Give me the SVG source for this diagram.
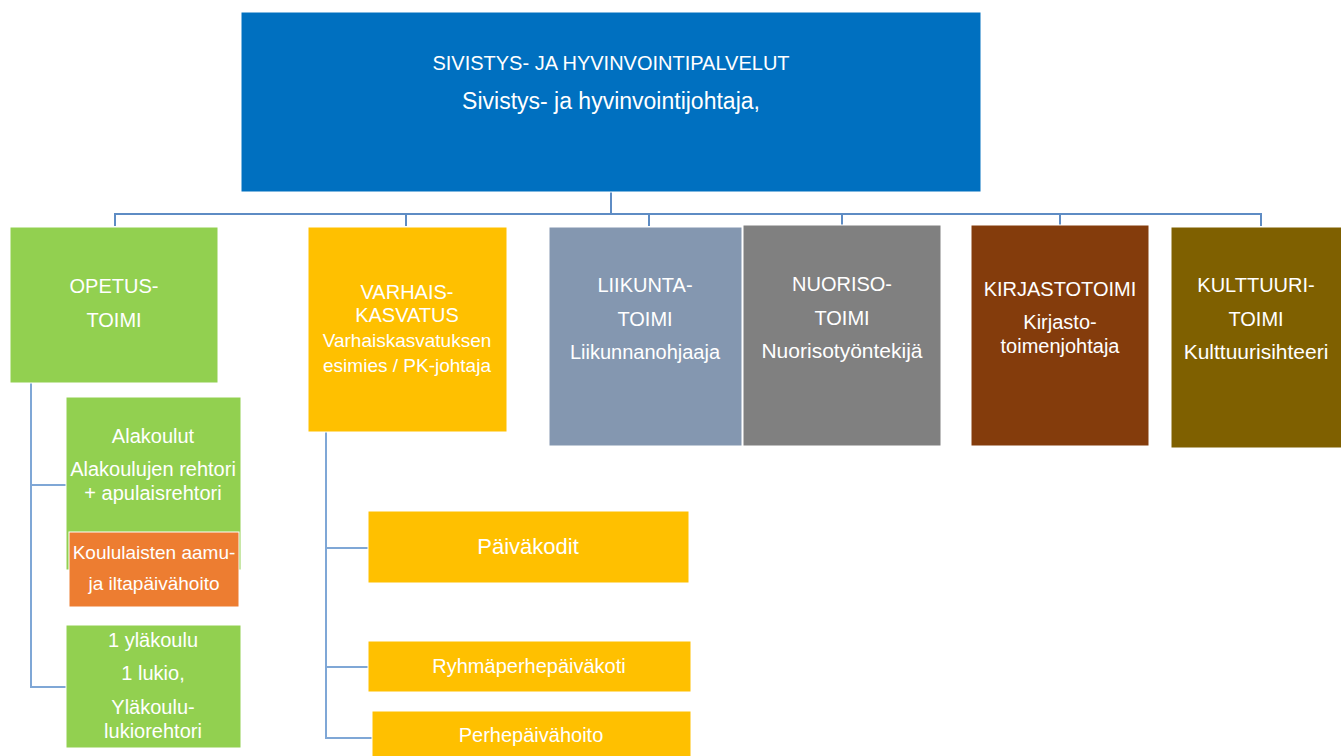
<svg xmlns="http://www.w3.org/2000/svg" width="1341" height="756" viewBox="0 0 1341 756">
<style>
text{font-family:"Liberation Sans",Arial,sans-serif;font-size:20px;fill:#ffffff;text-anchor:middle}
.s19{font-size:19px}
.box{stroke:#ffffff;stroke-width:1}
.con{fill:none;stroke:#5E8CC4;stroke-width:2}
.sub{fill:none;stroke:#7FA7D6;stroke-width:2}
</style>
<rect width="1341" height="756" fill="#ffffff"/>
<g id="connectors">
<path class="con" d="M611,192 V214 M115,226 V214 H1261 V226 M406,214 V226 M649,214 V226 M842,214 V226 M1060,214 V226"/>
<path class="sub" d="M31,383 V687 H66 M31,485 H66"/>
<path class="sub" d="M326,432 V738 H372 M326,548 H368 M326,667 H368"/>
</g>
<g id="top">
<rect class="box" x="241" y="12" width="740" height="180" fill="#0070C0"/>
<text x="611" y="70">SIVISTYS- JA HYVINVOINTIPALVELUT</text>
<text x="611" y="109" style="font-size:23px">Sivistys- ja hyvinvointijohtaja,</text>
</g>
<g id="opetus">
<rect class="box" x="10" y="227" width="208" height="156" fill="#92D050"/>
<text x="114" y="293">OPETUS-</text>
<text x="114" y="327">TOIMI</text>
</g>
<g id="varhais">
<rect class="box" x="308" y="227" width="199" height="205" fill="#FFC000"/>
<text x="407" y="299">VARHAIS-</text>
<text x="407" y="322">KASVATUS</text>
<text class="s19" x="407" y="347">Varhaiskasvatuksen</text>
<text class="s19" x="407" y="372">esimies / PK-johtaja</text>
</g>
<g id="liikunta">
<rect class="box" x="549" y="227" width="193" height="219" fill="#8497B0"/>
<text x="645" y="292">LIIKUNTA-</text>
<text x="645" y="326">TOIMI</text>
<text x="645" y="359">Liikunnanohjaaja</text>
</g>
<g id="nuoriso">
<rect class="box" x="743" y="225" width="198" height="221" fill="#808080"/>
<text x="842" y="291">NUORISO-</text>
<text x="842" y="325">TOIMI</text>
<text x="842" y="358" style="font-size:21px">Nuorisotyöntekijä</text>
</g>
<g id="kirjasto">
<rect class="box" x="971" y="225" width="178" height="221" fill="#843C0C"/>
<text x="1060" y="296">KIRJASTOTOIMI</text>
<text x="1060" y="329">Kirjasto-</text>
<text x="1060" y="353">toimenjohtaja</text>
</g>
<g id="kulttuuri">
<rect class="box" x="1171" y="227" width="172" height="221" fill="#7F6000"/>
<text x="1256" y="292">KULTTUURI-</text>
<text x="1256" y="326">TOIMI</text>
<text x="1256" y="359" style="font-size:21px">Kulttuurisihteeri</text>
</g>
<g id="alakoulut">
<rect class="box" x="66" y="397" width="175" height="173" fill="#92D050"/>
<text x="153" y="443">Alakoulut</text>
<text x="153" y="476">Alakoulujen rehtori</text>
<text x="153" y="500">+ apulaisrehtori</text>
</g>
<g id="aamu">
<rect class="box" x="69" y="532" width="170" height="75" fill="#ED7D31"/>
<text class="s19" x="154" y="559">Koululaisten aamu-</text>
<text class="s19" x="154" y="590">ja iltapäivähoito</text>
</g>
<g id="ylakoulu">
<rect class="box" x="66" y="625" width="175" height="123" fill="#92D050"/>
<text x="153" y="647">1 yläkoulu</text>
<text x="153" y="680">1 lukio,</text>
<text x="153" y="714">Yläkoulu-</text>
<text x="153" y="738">lukiorehtori</text>
</g>
<g id="paivakodit">
<rect class="box" x="368" y="511" width="321" height="72" fill="#FFC000"/>
<text x="528" y="554" style="font-size:22px">Päiväkodit</text>
</g>
<g id="ryhma">
<rect class="box" x="368" y="641" width="323" height="51" fill="#FFC000"/>
<text x="529" y="673">Ryhmäperhepäiväkoti</text>
</g>
<g id="perhe">
<rect class="box" x="372" y="711" width="319" height="50" fill="#FFC000"/>
<text x="531" y="742">Perhepäivähoito</text>
</g>
</svg>
